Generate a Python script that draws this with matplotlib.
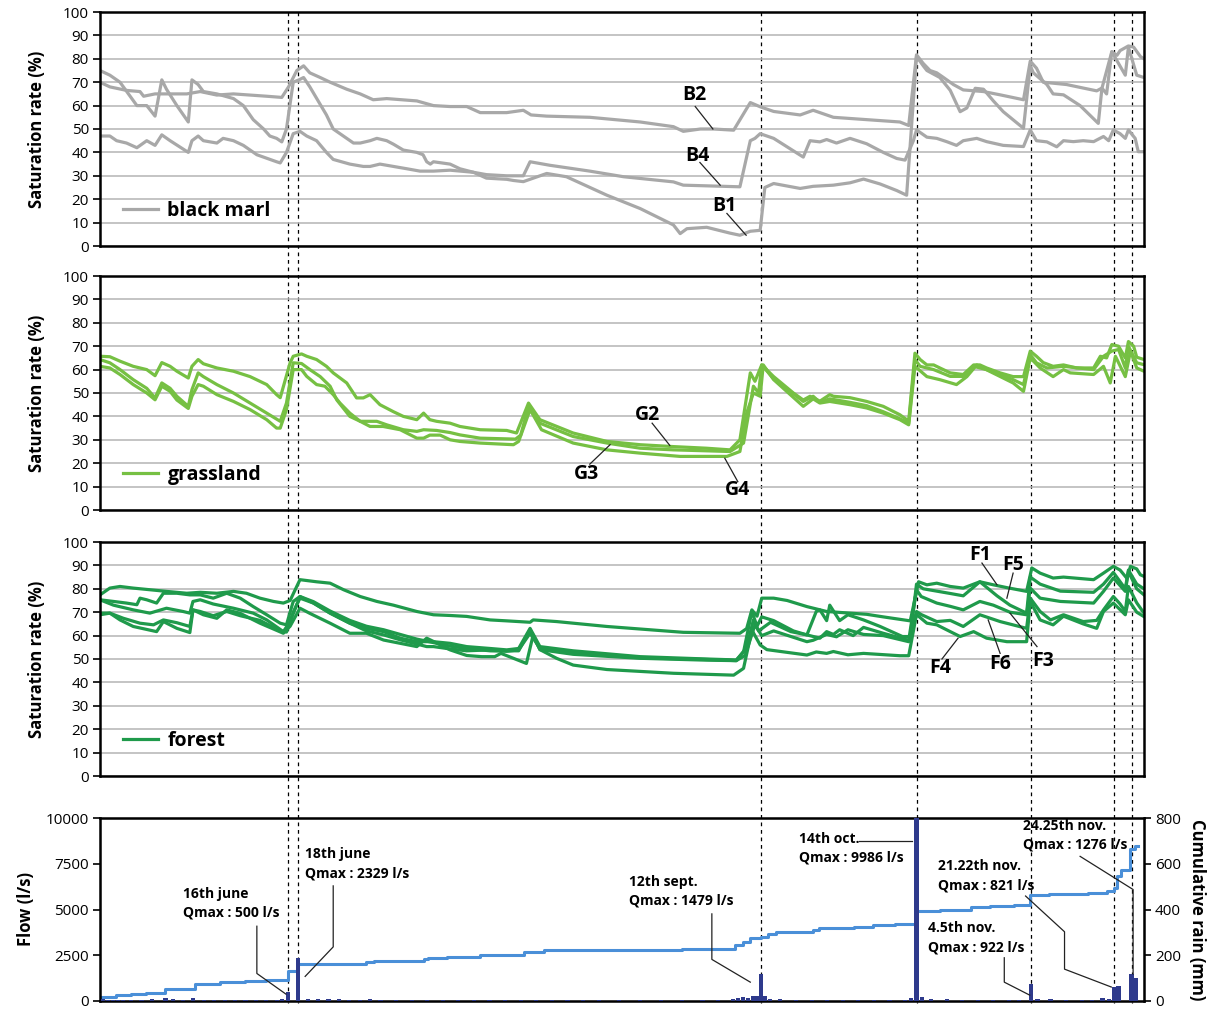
import matplotlib
matplotlib.use("Agg")
import matplotlib.pyplot as plt
from matplotlib.lines import Line2D
from matplotlib import transforms

plt.rcParams['font.family'] = ['Open Sans', 'DejaVu Sans']

# x axis is in days from the start of the record (~mid May)
event_days = [36.2, 38.1, 127.3, 157.3, 179.2, 195.2, 198.7]

# ---- black marl (day, saturation %) ----
b2 = [(0, 70), (1.9, 68), (5.1, 66.5), (7.7, 66), (8.4, 64), (10.6, 65), (11.9, 65), (16.7, 65), (19.3, 66),
      (22.5, 64.5), (25.7, 65), (32.1, 64), (35.0, 63.5), (36.3, 68), (37.9, 75), (39.2, 77), (40.4, 74),
      (42.4, 72), (44.3, 70), (47.5, 67), (50.1, 65), (52.6, 62.5), (55.2, 63), (61.0, 62), (64.2, 60),
      (67.4, 59.6), (70.6, 59.6), (73.2, 57), (78.3, 57), (81.5, 58), (83.0, 56), (86.0, 55.5), (94.3, 55),
      (104.0, 53), (110.4, 51), (112.3, 49), (115.6, 50), (118.1, 50), (122.0, 49.5), (125.2, 61.3),
      (127.1, 59.5), (129.7, 57.5), (134.8, 56), (137.3, 58), (141.2, 55), (147.6, 54), (154.0, 53),
      (155.7, 51.5), (157.2, 81.7), (158.5, 78), (159.8, 75), (161.1, 74), (162.4, 72), (164.3, 69),
      (166.2, 66.7), (170.1, 66), (173.3, 64.6), (177.8, 62.5), (179.1, 79), (180.3, 76), (181.6, 70),
      (186.1, 69), (189.3, 67.5), (191.9, 66.3), (192.9, 67.5), (193.8, 65), (194.8, 83), (195.8, 81.5),
      (196.4, 83.5), (198.0, 85.5), (199.0, 85), (200.3, 81), (201.0, 80)]
b1 = [(0, 75), (1.9, 73), (3.85, 70), (5.8, 64), (7.1, 60), (9.0, 60), (10.6, 55.5), (11.9, 71), (12.8, 67),
      (14.8, 60), (17.0, 53), (17.7, 71), (18.9, 69), (19.9, 66), (22.5, 65), (25.7, 63), (27.6, 60),
      (29.5, 54), (31.5, 50), (32.7, 47), (34.0, 46), (35.0, 44.5), (35.9, 50), (37.2, 70), (38.3, 71),
      (39.2, 72), (40.4, 68), (42.0, 62), (43.6, 56), (44.9, 50), (47.5, 46), (48.8, 44), (50.1, 44),
      (52.0, 45), (53.3, 46), (55.2, 45), (56.5, 43.5), (58.4, 41), (61.0, 40), (62.2, 39), (62.9, 36),
      (63.6, 35), (64.2, 36), (67.4, 35), (69.3, 33), (71.9, 31.5), (74.4, 29), (78.3, 28.5), (79.6, 28),
      (81.5, 27.5), (86.0, 31), (89.8, 29.6), (97.6, 21.7), (104.0, 16), (110.4, 9), (111.7, 5.3),
      (113.0, 7.4), (116.8, 8), (121.3, 5.5), (123.2, 4.6), (125.2, 6.3), (127.1, 6.7), (128.0, 25),
      (129.7, 26.7), (134.8, 24.6), (137.3, 25.5), (141.2, 26), (144.4, 27), (147.0, 28.6), (150.2, 26.5),
      (153.4, 23.7), (155.3, 21.7), (157.2, 81), (158.5, 77), (159.2, 75), (161.7, 72), (163.7, 66.5),
      (165.6, 57.4), (166.9, 59), (168.5, 67.4), (170.1, 67), (172.0, 62), (173.9, 57.4), (177.8, 50.3),
      (179.1, 77), (179.7, 74), (182.3, 69), (183.5, 65), (185.5, 64.6), (188.7, 60), (192.2, 52.4),
      (192.9, 67.4), (194.8, 83), (197.4, 73), (198.0, 85), (199.6, 73), (201, 72)]
b4 = [(0, 47), (1.9, 47), (3.2, 45), (5.1, 44), (7.1, 42), (9.0, 45), (10.6, 43), (11.9, 47.5), (13.5, 45),
      (17.0, 40), (17.7, 45), (18.9, 47), (19.9, 45), (22.5, 44), (23.7, 46), (25.7, 45), (27.6, 43),
      (30.2, 39), (34.0, 36), (34.7, 35.5), (35.9, 40), (37.2, 48), (38.5, 49), (39.8, 47), (41.7, 45),
      (43.6, 40), (44.9, 37), (48.1, 35), (50.7, 34), (52.0, 34), (53.9, 35), (56.5, 34), (59.1, 33),
      (61.6, 32), (64.2, 32), (67.4, 32.4), (71.9, 31.5), (74.4, 30.5), (78.3, 30), (81.5, 30), (82.8, 36),
      (86.6, 34.5), (94.3, 32), (100.8, 29.6), (110.4, 27.4), (112.3, 26), (123.2, 25.3), (125.2, 45),
      (126.1, 46), (127.1, 48), (129.7, 46), (135.4, 38), (136.7, 45), (138.6, 44.5), (139.9, 45.5),
      (141.8, 44), (144.4, 46), (147.6, 43.7), (150.8, 40), (153.4, 37.4), (155.0, 36.7), (156.6, 45),
      (157.2, 49.6), (159.2, 46.5), (161.1, 46), (163.0, 44.6), (164.9, 43), (166.2, 45), (168.8, 46),
      (170.7, 44.6), (173.9, 43), (177.8, 42.5), (179.1, 49.6), (180.3, 45), (182.3, 44.5), (184.2, 42.4),
      (185.5, 45), (187.4, 44.6), (189.3, 45), (191.3, 44.6), (193.2, 46.8), (194.2, 45), (195.1, 49.6),
      (196.4, 48), (197.4, 46), (198.0, 49.6), (199.3, 46), (199.9, 40.3), (201, 40.3)]

# ---- grassland ----
g2 = [(0, 65.7), (1.9, 65.5), (3.85, 63.6), (6.4, 61.4), (9.0, 60), (10.6, 57.4), (11.9, 63), (13.5, 61.4),
      (14.8, 59.3), (17.0, 56.4), (17.7, 61.4), (18.9, 64.3), (19.9, 62.5), (22.5, 60.7), (25.7, 59.3),
      (28.9, 57), (32.1, 53.6), (34.0, 49.3), (34.7, 48), (36.6, 62.9), (37.2, 65.7), (38.8, 66.7),
      (39.8, 65.7), (41.7, 64.3), (43.6, 61.4), (44.9, 58.6), (47.5, 54.3), (49.4, 47.9), (50.7, 47.9),
      (52.0, 49.3), (53.9, 45), (56.5, 42), (58.4, 40), (61.0, 38.6), (62.3, 41.4), (63.5, 38.6),
      (64.8, 37.9), (67.4, 37.1), (69.3, 35.7), (73.2, 34.3), (78.3, 34), (80.2, 32.9), (82.5, 45.7),
      (84.7, 38.6), (91.1, 32.9), (97.6, 29.3), (104.0, 27.9), (110.4, 27.1), (116.8, 26.4), (121.3, 25.7),
      (123.2, 30), (125.2, 58.6), (126.1, 55), (127.4, 62), (129.7, 57), (133.5, 50), (135.4, 47),
      (136.7, 48.6), (138.6, 46.5), (140.5, 49.3), (141.2, 48.6), (144.4, 48), (147.6, 46.4), (150.8, 44.3),
      (154.0, 40.7), (155.7, 38), (156.9, 67), (157.9, 64.3), (159.2, 62), (160.5, 62), (161.7, 60.7),
      (163.7, 58.6), (166.2, 57.9), (168.2, 62), (169.4, 62), (170.7, 60.7), (173.3, 58.6), (175.8, 57),
      (177.8, 57), (179.1, 67.9), (180.3, 65.7), (181.6, 63), (183.5, 61.4), (185.5, 62), (188.0, 60.7),
      (191.3, 60.7), (192.6, 65.7), (193.8, 65), (194.8, 70.7), (196.1, 70), (197.4, 65), (198.0, 72),
      (199.0, 70), (199.6, 65.3), (201, 64.3)]
g3 = [(0, 64.3), (1.9, 62.9), (3.85, 60), (6.4, 55.7), (9.0, 52), (10.6, 47.9), (11.9, 54.3), (13.5, 52),
      (14.8, 48.6), (17.0, 44.3), (17.7, 51.4), (18.9, 58.6), (19.9, 57), (22.5, 53.6), (25.7, 50),
      (28.9, 45.7), (32.1, 41.4), (34.7, 37.9), (35.9, 45.7), (37.2, 62.9), (38.8, 62.6), (40.4, 60),
      (42.4, 57), (44.3, 52.9), (45.6, 47), (48.1, 40), (50.1, 37.9), (53.3, 37.9), (55.2, 36.4),
      (58.4, 34.3), (61.0, 33.6), (62.3, 34.3), (64.8, 34), (67.4, 33.1), (69.3, 32.1), (73.2, 30.7),
      (80.0, 30.3), (81.0, 32), (82.5, 44.3), (84.7, 37.1), (91.1, 31.4), (97.6, 28.6), (104.0, 26.4),
      (110.4, 25.7), (121.3, 25), (123.9, 28.6), (125.8, 52.9), (126.8, 50), (127.4, 62), (129.7, 56),
      (135.4, 46.4), (137.3, 48.6), (138.6, 46), (140.5, 47.5), (144.4, 46), (147.6, 44.6), (150.8, 42),
      (154.0, 39), (155.7, 37), (156.9, 64.3), (157.9, 61.4), (160.5, 60), (163.7, 57.1), (166.2, 57.1),
      (168.2, 61.4), (170.7, 60), (175.8, 55.7), (177.8, 53.6), (179.1, 66.4), (180.3, 62.9), (182.3, 60.7),
      (185.5, 61.4), (191.3, 60), (193.2, 65.7), (194.8, 67.9), (196.1, 68.6), (197.4, 60.7), (198.0, 70),
      (199.6, 62.9), (201, 62.1)]
g4 = [(0, 61.4), (1.9, 60.7), (3.85, 57.9), (6.4, 53.6), (9.0, 50), (10.6, 47.1), (11.9, 52.9), (13.5, 50.7),
      (14.8, 47), (17.0, 43.4), (17.7, 48.6), (18.9, 53.6), (19.9, 52.9), (22.5, 49.3), (25.7, 46.4),
      (28.9, 42.9), (32.1, 38.6), (34.0, 35), (34.7, 35), (35.9, 42.9), (37.2, 60), (38.8, 60), (39.8, 57.1),
      (41.7, 53.6), (43.3, 52.9), (44.9, 49.3), (46.2, 45.7), (48.1, 41.4), (50.1, 37.9), (52.0, 35.7),
      (54.5, 35.7), (57.8, 34.3), (61.0, 30.7), (62.3, 30.7), (63.5, 32), (65.5, 32), (67.4, 30), (69.3, 29.3),
      (73.2, 28.6), (79.6, 27.9), (80.6, 29.3), (82.8, 42.9), (85.0, 34.3), (91.1, 28.6), (97.6, 25.7),
      (104.0, 24.3), (111.7, 22.9), (120.7, 22.9), (123.2, 25), (124.5, 41.4), (125.8, 50), (127.1, 48.6),
      (127.7, 62), (129.7, 55.7), (135.4, 44.3), (137.3, 47.5), (138.6, 45.7), (140.5, 46.4), (144.4, 45),
      (147.6, 43.6), (150.8, 41.4), (154.0, 38.6), (155.7, 36.4), (156.9, 61.4), (159.2, 57), (161.7, 55.7),
      (164.9, 53.6), (166.9, 57), (168.8, 62), (175.8, 54.3), (177.8, 50.7), (179.1, 65), (181.0, 60.7),
      (183.5, 57), (185.5, 60), (186.8, 58.6), (191.3, 57.9), (193.2, 61.4), (194.5, 54.3), (195.5, 65.7),
      (197.4, 57), (198.4, 67.9), (199.6, 60.7), (201, 59.3)]

# ---- forest ----
f1 = [(0, 77.4), (1.9, 80.3), (3.85, 81), (6.4, 80.3), (9.6, 79.6), (12.8, 78.9), (16.7, 78.1), (19.3, 78.5),
      (22.5, 78.1), (25.7, 78.9), (28.2, 78.1), (30.8, 76), (33.4, 74.6), (35.3, 73.9), (36.6, 75),
      (38.5, 83.9), (41.7, 83), (44.3, 82.4), (46.9, 79.6), (50.1, 76.7), (53.3, 74.6), (56.5, 73),
      (61.0, 70.3), (64.2, 68.9), (67.4, 68.6), (70.6, 68.2), (75.1, 66.7), (78.3, 66.3), (82.8, 65.7),
      (83.4, 66.7), (87.9, 66), (97.6, 63.9), (112.3, 61.4), (123.2, 61), (124.5, 63), (125.5, 71),
      (126.5, 68.3), (127.4, 76), (129.7, 76), (132.3, 75), (136.1, 72.4), (139.9, 70.3), (147.6, 69.1),
      (150.8, 68), (156.0, 66.3), (157.6, 83), (159.2, 81.7), (161.1, 82.4), (163.7, 81), (166.2, 80.3),
      (169.4, 83), (172.0, 81.7), (174.6, 80.5), (178.4, 78.9), (179.4, 88.9), (181.0, 86.7), (183.5, 84.6),
      (185.5, 85), (191.3, 83.9), (193.2, 86.7), (195.1, 89.6), (196.4, 88), (197.7, 84.5), (198.4, 89.6),
      (199.6, 88.5), (200.3, 86), (201, 85.3)]
f5 = [(0, 75.3), (2.6, 74.6), (5.1, 73.9), (7.1, 73.2), (7.7, 76), (9.0, 75.3), (10.9, 73.9), (12.2, 78.1),
      (14.8, 78.1), (17.3, 77.4), (19.3, 77.4), (21.8, 76), (24.4, 78.1), (27.0, 76), (29.5, 72.4),
      (32.1, 68.9), (34.7, 65.3), (35.9, 64.6), (37.2, 74.6), (38.5, 76.7), (41.1, 73.9), (44.3, 69.6),
      (48.1, 65.3), (51.3, 63.1), (54.6, 61.7), (57.8, 58.9), (61.0, 57.4), (64.2, 57.4), (67.4, 56.7),
      (70.6, 55.3), (75.1, 54.5), (78.3, 53.9), (80.6, 54.5), (82.8, 63.1), (84.7, 55.3), (91.1, 53.5),
      (104.0, 51), (116.8, 50), (122.5, 49.6), (123.9, 53), (125.5, 70.3), (126.5, 64), (127.4, 68),
      (129.7, 66.4), (133.5, 62), (136.1, 60.3), (137.9, 70.3), (138.6, 71), (139.9, 66.4), (140.5, 73),
      (142.4, 66.4), (144.0, 68.9), (147.0, 66.7), (150.2, 63.9), (154.5, 59.6), (156.0, 59.6), (157.2, 82),
      (158.5, 80), (161.1, 79), (163.7, 78), (166.2, 77), (169.4, 83), (172.7, 77), (175.2, 73), (178.4, 69.6),
      (179.1, 85), (181.0, 82), (184.9, 79), (191.3, 78.5), (193.2, 82), (195.1, 87), (197.4, 80), (198.0, 88),
      (199.6, 82), (201, 80)]
f3 = [(0, 75.3), (2.6, 73), (6.4, 71), (9.6, 69.6), (12.8, 71.7), (16.0, 70.3), (17.3, 69.6), (17.9, 74.6),
      (19.3, 75.3), (21.8, 73.5), (25.7, 71.7), (29.5, 69.6), (32.1, 66.7), (35.3, 61.7), (36.6, 66),
      (38.5, 76.7), (41.1, 74.5), (44.3, 70.5), (48.1, 66.5), (51.3, 64), (54.6, 62.5), (57.8, 60.5),
      (61.0, 58.5), (64.2, 57), (67.4, 55.5), (70.6, 54.5), (75.1, 53.5), (78.3, 53.3), (80.6, 53.9),
      (82.8, 61), (84.7, 54.5), (91.1, 52.5), (104.0, 50.5), (116.8, 49.8), (122.5, 49.3), (124.5, 55),
      (125.8, 66.7), (126.8, 62), (129.1, 65.7), (133.0, 61.7), (136.1, 60.3), (138.6, 58.9), (139.9, 61.7),
      (141.2, 60.5), (142.4, 62.5), (145.0, 60), (147.0, 63.5), (150.8, 61), (155.7, 58), (157.2, 79.6),
      (158.1, 76.7), (161.1, 73.9), (163.7, 72.5), (166.2, 71), (169.4, 74.6), (172.0, 73), (175.2, 70),
      (178.4, 68.9), (179.1, 80.3), (181.0, 76), (184.9, 74.6), (191.3, 73.9), (193.2, 78.9), (195.1, 84.6),
      (197.4, 78.9), (198.0, 87.4), (199.6, 80), (201, 77.4)]
f6 = [(0, 69.6), (1.9, 69.6), (4.5, 67.4), (7.7, 65.3), (10.3, 64.6), (12.2, 66.7), (14.8, 65.5),
      (17.3, 63.9), (17.9, 71), (19.3, 70.3), (21.8, 68.5), (24.4, 70.3), (27.0, 68.5), (30.8, 66.5),
      (34.7, 62), (35.9, 61.5), (37.2, 70), (38.5, 76), (41.1, 73.9), (44.3, 69.6), (48.1, 65.3), (51.3, 62),
      (54.6, 60.3), (57.8, 58.2), (61.0, 56.4), (62.9, 55.3), (64.2, 55.3), (67.4, 54.3), (70.6, 53.5),
      (75.1, 53.9), (78.3, 53.5), (80.6, 53.5), (82.8, 62.5), (84.7, 54), (91.1, 52), (104.0, 50.3),
      (116.8, 49.5), (122.5, 49.3), (124.2, 51.5), (126.1, 64.6), (127.4, 60), (129.7, 62), (136.1, 57.4),
      (137.3, 58), (139.9, 60.5), (141.8, 59.5), (144.0, 62.5), (147.0, 60.5), (150.8, 60), (155.7, 57.4),
      (157.2, 70.3), (158.1, 69), (161.1, 66), (163.7, 66.5), (166.2, 63.9), (169.4, 68.9), (173.3, 66),
      (178.4, 63.1), (179.1, 76), (181.0, 70.3), (183.0, 66.7), (185.5, 68.9), (189.3, 66), (191.9, 66.5),
      (193.2, 71), (195.1, 76.7), (196.4, 73.5), (197.4, 70.3), (198.0, 81), (199.6, 74), (201, 69.6)]
f4 = [(0, 68.9), (1.9, 69.6), (3.85, 66.7), (6.4, 63.9), (10.9, 61.7), (12.2, 66), (14.8, 63.1), (17.3, 61.3),
      (17.9, 71), (19.9, 68.9), (22.5, 67.4), (24.4, 71), (27.0, 69.5), (30.8, 65.3), (35.3, 61), (36.6, 64),
      (38.5, 71.7), (40.4, 69.5), (44.3, 65.3), (48.1, 61), (51.3, 61), (54.6, 58.1), (57.8, 56.7),
      (61.0, 55.3), (62.9, 58.9), (64.2, 57.5), (67.4, 53.9), (70.6, 51.5), (73.5, 51), (76.0, 51),
      (77.2, 52.4), (82.1, 48.1), (83.4, 60.3), (84.7, 54), (87.9, 50.3), (91.1, 47.4), (97.6, 45.5),
      (110.4, 43.9), (122.0, 43.1), (123.9, 46), (125.5, 62.4), (127.1, 56), (128.4, 54), (136.1, 51.7),
      (137.9, 53), (139.9, 52.4), (141.2, 53.2), (144.0, 51.8), (147.0, 52.4), (154.0, 51.4), (155.7, 51.4),
      (157.2, 69), (159.2, 65.3), (161.1, 64.6), (163.7, 61.7), (165.6, 59.6), (168.2, 61.7), (170.7, 58.9),
      (174.6, 57.4), (178.4, 57.4), (179.1, 74.6), (181.0, 66.7), (183.5, 64.6), (185.5, 68.3), (189.3, 65),
      (191.9, 63.1), (193.2, 70.3), (195.1, 73.9), (197.4, 68.9), (198.0, 75.3), (199.6, 70), (201, 68.1)]

# ---- daily flow (l/s) and cumulative rain (mm) ----
flow_day = [0.5, 1.5, 2.5, 3.5, 4.5, 6, 8, 10, 12.6, 14, 16, 17.9, 20, 22, 24, 26, 28, 30, 32, 34, 35,
            36.2, 38.1, 40, 42, 44, 46, 48, 50, 52, 54, 57, 60, 63, 66, 69, 72, 75, 78, 81, 84, 87, 90, 93,
            96, 100, 104, 108, 112, 116, 119, 121.8, 122.8, 123.8, 124.8, 125.8, 126.5, 127.3, 128.1, 129,
            131, 134, 137, 140, 143, 146, 149, 152, 155, 156.2, 157.2, 158.3, 160, 163, 166, 169, 172, 175,
            177, 179.2, 180.5, 183, 186, 189, 191, 193, 194.2, 195.3, 196.1, 198.6, 199.4]
flow_val = [90, 80, 80, 70, 70, 80, 70, 90, 180, 90, 80, 160, 80, 70, 80, 70, 70, 80, 70, 80, 90,
            500, 2329, 120, 100, 90, 90, 80, 80, 90, 70, 80, 70, 70, 80, 70, 60, 70, 60, 70, 60, 60, 60, 60,
            60, 60, 60, 50, 60, 50, 60, 100, 150, 200, 180, 250, 300, 1479, 250, 120,
            90, 80, 80, 70, 70, 70, 60, 60, 60, 150, 9986, 200, 120, 90, 80, 80, 70, 70,
            60, 922, 120, 90, 80, 80, 70, 150, 120, 740, 821, 1450, 1240]
rain_day = [0, 3.0, 5.9, 8.9, 12.6, 18.3, 23.1, 28, 31.9, 36.2, 38.1, 51.3, 52.7, 62.4, 63.2, 66.8, 73.2,
            81.7, 85.4, 112.0, 122.2, 123.7, 125.2, 127.3, 128.6, 130.1, 137.2, 138.4, 145.1, 148.9, 153.0,
            157.1, 161.7, 167.7, 171.4, 176.0, 179.0, 182.7, 190.2, 193.9, 195.3, 195.8, 196.5, 198.4, 199.2,
            199.8]
rain_mm = [18, 25, 30, 36, 54, 73, 85, 89, 92, 129, 160, 171, 176, 182, 188, 192, 200,
           216, 224, 227, 246, 257, 274, 281, 293, 300, 310, 317, 324, 331, 338,
           395, 399, 409, 416, 419, 462, 466, 470, 480, 494, 547, 573, 665, 679,
           679]

GREY = '#a8a8a8'
GRASS = '#76c043'
FOREST = '#1f9a4b'
RAIN = '#4a8fd8'
BAR = '#2e3a8c'
GRID = '#b4b4b4'

fig = plt.figure(figsize=(12.12, 10.10), dpi=100)
left, width = 100 / 1212, 1044 / 1212
ax1 = fig.add_axes([left, 1 - 246 / 1010, width, 234 / 1010])
ax2 = fig.add_axes([left, 1 - 510 / 1010, width, 234 / 1010])
ax3 = fig.add_axes([left, 1 - 776 / 1010, width, 234 / 1010])
ax4 = fig.add_axes([left, 1 - 1001 / 1010, width, 183 / 1010])


def style_sat(ax):
    ax.set_xlim(0, 201)
    ax.set_ylim(0, 100)
    ax.set_yticks(range(0, 101, 10))
    ax.set_xticks([])
    ax.yaxis.grid(True, color=GRID, lw=1.1)
    ax.set_axisbelow(True)
    ax.patch.set_visible(False)
    for s in ax.spines.values():
        s.set_linewidth(1.8)
    ax.tick_params(axis='y', labelsize=11, length=5, width=1.2, pad=3)
    ax.set_ylabel('Saturation rate (%)', fontsize=12, fontweight='bold', labelpad=12)


def draw(ax, pts, color, label=None):
    d, v = zip(*pts)
    ax.plot(d, v, color=color, lw=2.3, label=label, solid_joinstyle='round')


for ax in (ax1, ax2, ax3):
    style_sat(ax)

draw(ax1, b2, GREY, 'black marl')
draw(ax1, b1, GREY)
draw(ax1, b4, GREY)
draw(ax2, g2, GRASS, 'grassland')
draw(ax2, g3, GRASS)
draw(ax2, g4, GRASS)
draw(ax3, f1, FOREST, 'forest')
for s in (f5, f3, f6, f4):
    draw(ax3, s, FOREST)

for ax in (ax1, ax2, ax3):
    ax.legend(loc='center left', bbox_to_anchor=(0.005, 0.15), frameon=False, handlelength=1.8,
              handletextpad=0.5, prop={'weight': 'bold', 'size': 14})


# sensor labels with leader lines
def tag(ax, txt, tx, ty, p0, p1):
    ax.text(tx, ty, txt, fontsize=14, fontweight='bold', ha='center', va='center')
    ax.plot([p0[0], p1[0]], [p0[1], p1[1]], color='#222222', lw=0.9)


tag(ax1, 'B2', 114.4, 64.5, (114.6, 59.6), (118.0, 50))
tag(ax1, 'B4', 115.1, 38.6, (115.5, 35.7), (119.4, 26))
tag(ax1, 'B1', 120.3, 17, (120.7, 13.9), (124.4, 4.6))
tag(ax2, 'G2', 105.5, 40.4, (106.3, 37.1), (109.7, 27.6))
tag(ax2, 'G3', 93.7, 15.4, (94.3, 19.6), (98.2, 27.9))
tag(ax2, 'G4', 122.8, 8.6, (122.8, 12.1), (120.3, 22.1))
tag(ax3, 'F1', 169.4, 94.3, (169.8, 91), (172.7, 81.7))
tag(ax3, 'F5', 175.8, 90, (175.8, 86.7), (174.6, 76))
tag(ax3, 'F3', 181.6, 49.1, (180.4, 55.3), (175.2, 69.6))
tag(ax3, 'F6', 173.3, 47.7, (173.3, 52.4), (171.0, 66.7))
tag(ax3, 'F4', 161.7, 46, (162.1, 50), (165.2, 58.9))

# ---- flow / rain panel ----
ax4.set_xlim(0, 201)
ax4.set_ylim(0, 10000)
ax4.set_yticks([0, 2500, 5000, 7500, 10000])
ax4.set_xticks([])
for s in ax4.spines.values():
    s.set_linewidth(1.8)
ax4.tick_params(axis='y', labelsize=11, length=5, width=1.2, pad=3)
ax4.set_ylabel('Flow (l/s)', fontsize=12, fontweight='bold', labelpad=8)
ax4.bar(flow_day, flow_val, width=0.8, color=BAR, zorder=3)

ax4r = ax4.twinx()
ax4r.set_ylim(0, 800)
ax4r.set_yticks([0, 200, 400, 600, 800])
ax4r.tick_params(axis='y', labelsize=11, length=5, width=1.2, pad=3)
ax4r.set_ylabel('Cumulative rain (mm)', fontsize=12, fontweight='bold', rotation=270, labelpad=18)
ax4r.step(rain_day, rain_mm, where='post', color=RAIN, lw=2.2, zorder=2)
ax4.set_zorder(ax4r.get_zorder() + 1)
ax4.patch.set_visible(False)
ax4r.patch.set_visible(False)


def flow_note(txt, tx, ty, path):
    ax4.text(tx, ty, txt, fontsize=10, fontweight='bold', ha='left', va='top', linespacing=1.45)
    xs, ys = zip(*path)
    ax4.plot(xs, ys, color='#222222', lw=0.9, zorder=4)


flow_note('16th june\nQmax : 500 l/s', 16.0, 6250, [(30.2, 4086), (30.2, 1505), (35.8, 376)])
flow_note('18th june\nQmax : 2329 l/s', 39.5, 8400, [(44.9, 6290), (44.9, 2957), (39.5, 1344)])
flow_note('12th sept.\nQmax : 1479 l/s', 101.9, 6900, [(117.8, 4760), (117.8, 2273), (125.2, 1030)])
flow_note('14th oct.\nQmax : 9986 l/s', 134.6, 9250, [(146.2, 8721), (156.4, 8721)])
flow_note('21.22th nov.\nQmax : 821 l/s', 161.3, 7750, [(178.2, 5737), (185.7, 3783), (185.7, 1741),
                                                          (194.7, 764)])
flow_note('4.5th nov.\nQmax : 922 l/s', 159.4, 4350, [(174.1, 2362), (174.1, 1030), (179.0, 320)])
flow_note('24.25th nov.\nQmax : 1276 l/s', 177.8, 9950, [(188.7, 7904), (198.9, 6092), (198.9, 1474)])

# dashed event lines running through all panels (behind the data)
trans = transforms.blended_transform_factory(ax1.transData, fig.transFigure)
for d in event_days:
    fig.add_artist(Line2D([d, d], [1 - 12 / 1010, 1 - 1003 / 1010], transform=trans, color='black',
                          lw=0.9, ls=(0, (3, 3)), zorder=-1))

fig.savefig('out.png', dpi=100)
